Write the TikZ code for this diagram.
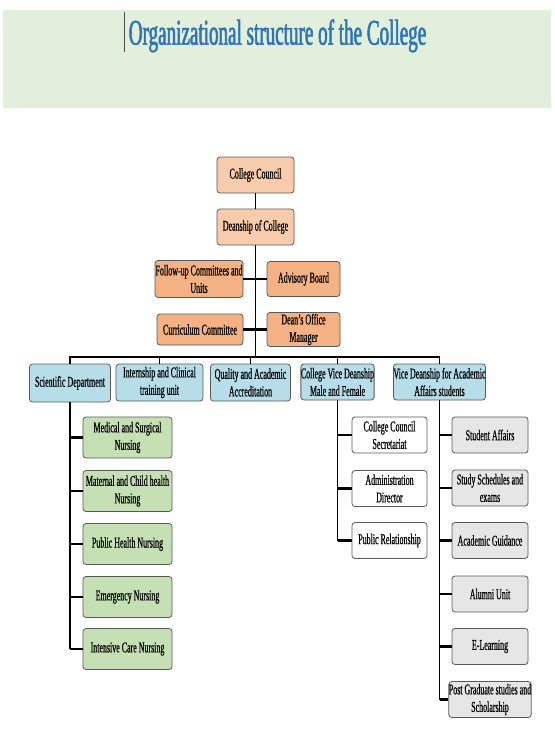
\documentclass[tikz,border=0pt]{standalone}
\usepackage{fontspec}
\setmainfont{Liberation Serif}
\newfontfamily\nf[FakeStretch=0.53,FakeBold=0.6]{Liberation Serif}
\newfontfamily\tf[FakeStretch=0.53,FakeBold=1.6]{Liberation Serif}
\definecolor{hdr}{HTML}{E2EFDA}
\definecolor{ttl}{HTML}{2E75B6}
\definecolor{peach}{HTML}{F8CBAD}
\definecolor{orng}{HTML}{F4B183}
\definecolor{lblue}{HTML}{B7DEE8}
\definecolor{lgreen}{HTML}{C5E0B4}
\definecolor{lgray}{HTML}{E7E6E6}
\definecolor{bord}{HTML}{595959}
\tikzset{
  box/.style={draw=bord, line width=0.8pt, rounded corners=3pt, align=center, inner sep=0pt,
    font=\nf\fontsize{15}{17.5}\selectfont, text=black},
  topbox/.style={box, fill=peach, minimum width=77pt, minimum height=36pt},
  orbox/.style={box, fill=orng},
  bluebox/.style={box, fill=lblue},
  grnbox/.style={box, fill=lgreen, minimum width=89pt, minimum height=41pt},
  whtbox/.style={box, fill=white, minimum width=75pt, minimum height=36pt},
  grybox/.style={box, fill=lgray, minimum width=76pt, minimum height=36pt},
  ln/.style={draw=black, line width=1.2pt},
  stub/.style={draw=black, line width=2.2pt}
}
\begin{document}
\begin{tikzpicture}[x=1pt,y=-1pt]
\useasboundingbox (0,0) rectangle (554,733);
\fill[white] (0,0) rectangle (554,733);
% header
\fill[hdr] (3,10) rectangle (551,108);
\node[font=\tf\fontsize{36}{40}\selectfont, text=ttl, anchor=base, inner sep=0pt] (title) at (277.5,44.6) {Organizational structure of the College};
\draw[line width=1pt, black!70] (124,12) -- (124,52);
% top
\node[topbox] (cc) at (255.5,175) {College Council};
\node[topbox] (dc) at (255.5,227) {Deanship of College};
\node[orbox, minimum width=88pt, minimum height=37pt] (fu) at (199,279) {Follow-up Committees and\\Units};
\node[orbox, minimum width=73pt, minimum height=35pt] (ab) at (303.5,279) {Advisory Board};
\node[orbox, minimum width=86pt, minimum height=31pt] (cur) at (200,329.5) {Curriculum Committee};
\node[orbox, minimum width=73pt, minimum height=34pt] (dom) at (303.5,329.5) {Dean’s Office\\Manager};
% second level
\node[bluebox, minimum width=81pt, minimum height=38pt] (sd) at (70,383) {Scientific Department};
\node[bluebox, minimum width=87pt, minimum height=37pt] (ic) at (159.5,382.5) {Internship and Clinical\\training unit};
\node[bluebox, minimum width=80pt, minimum height=37pt] (qa) at (250.5,382.5) {Quality and Academic\\Accreditation};
\node[bluebox, minimum width=72pt, minimum height=36pt] (cvd) at (337.5,382) {College Vice Deanship\\Male and Female};
\node[bluebox, minimum width=77pt, minimum height=36pt] (vda) at (439.5,382) {Vice Deanship for Academic\\Affairs students};
% scientific children
\node[grnbox] (g1) at (127.5,437.5) {Medical and Surgical\\Nursing};
\node[grnbox] (g2) at (127.5,491) {Maternal and Child health\\Nursing};
\node[grnbox] (g3) at (127.5,544) {Public Health Nursing};
\node[grnbox] (g4) at (127.5,597) {Emergency Nursing};
\node[grnbox] (g5) at (127.5,649) {Intensive Care Nursing};
% cvd children
\node[whtbox] (w1) at (389.5,435) {College Council\\Secretariat};
\node[whtbox] (w2) at (389.5,488.5) {Administration\\Director};
\node[whtbox] (w3) at (389.5,540.5) {Public Relationship};
% vda children
\node[grybox] (y1) at (490,435) {Student Affairs};
\node[grybox] (y2) at (490,488) {Study Schedules and\\exams};
\node[grybox] (y3) at (490,540.5) {Academic Guidance};
\node[grybox] (y4) at (490,594) {Alumni Unit};
\node[grybox] (y5) at (490,646.5) {E-Learning};
\node[grybox] (y6) at (490,699.5) {Post Graduate studies and\\Scholarship};
% connectors top
\coordinate (bar) at (255.5,357);
\draw[ln] (cc) -- (dc);
\draw[ln] (dc.south) -- (bar);
\draw[stub] (fu.east) -- (ab.west);
\draw[stub] (cur.east) -- (dom.west);
\draw[ln] (sd.north) -- (sd.north |- bar) -- (vda.north |- bar) -- (vda.north);
\draw[ln] (bar -| ic.north) -- (ic.north);
\draw[ln] (bar -| qa.north) -- (qa.north);
\draw[ln] (bar -| cvd.north) -- (cvd.north);
% scientific branch
\draw[ln] (sd.south) -- (sd.south |- g5.west);
\foreach \n in {g1,g2,g3,g4,g5} \draw[stub] (sd.south |- \n.west) -- (\n.west);
% cvd branch
\draw[ln] (cvd.south) -- (cvd.south |- w3.west);
\foreach \n in {w1,w2,w3} \draw[stub] (cvd.south |- \n.west) -- (\n.west);
% vda branch
\draw[ln] (vda.south) -- (vda.south |- y6.west);
\foreach \n in {y1,y2,y3,y4,y5,y6} \draw[stub] (vda.south |- \n.west) -- (\n.west);
\end{tikzpicture}
\end{document}
